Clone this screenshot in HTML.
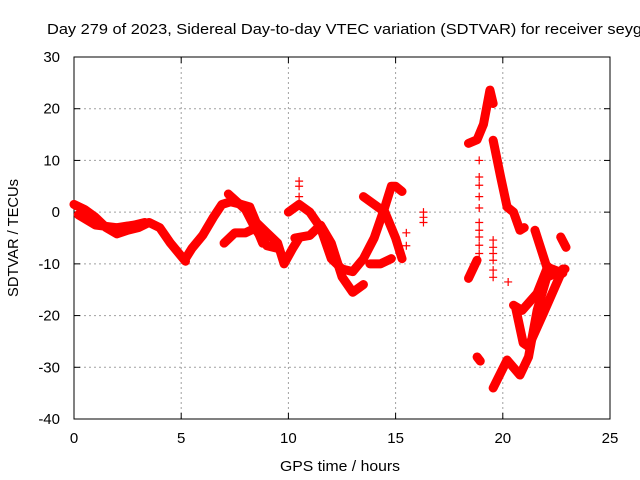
<!DOCTYPE html>
<html><head><meta charset="utf-8"><style>
html,body{margin:0;padding:0;background:#fff;}
svg{display:block;font-family:"Liberation Sans",sans-serif;}
</style></head><body>
<svg id="chart" width="640" height="480"></svg>
<script>
const xTicks=[0,5,10,15,20,25];
const yTicks=[-40,-30,-20,-10,0,10,20,30];
// band traces: [hour, TECU]
const traceA=[[0,1.5],[0.5,0.5],[1,-1],[1.5,-3],[2,-4.2],[2.5,-3.5],[3,-3],[3.5,-2],[4,-3],[4.5,-6],[5,-8.5],[5.2,-9.5]];
const traceA2=[[0.2,-0.5],[1,-2.5],[2,-3],[2.8,-2.5],[3.3,-2]];
const traceB=[[5.2,-9],[5.5,-7],[6,-4.5],[6.5,-1],[6.9,1.5],[7.3,2],[7.8,1.5],[8.2,1],[8.5,-2],[9,-4],[9.5,-6],[9.8,-10],[10.2,-7],[10.5,-5]];
const traceC=[[7.2,3.5],[7.6,2],[8,0.5],[8.5,-3.5],[9,-6.5],[9.5,-7]];
const traceC2=[[7,-6],[7.5,-4],[8,-4],[8.5,-3],[8.8,-6]];
const traceD=[[10,0],[10.5,1.5],[11,0],[11.5,-3],[12,-9],[12.5,-11],[13,-11.5],[13.5,-9],[14,-5],[14.5,1],[14.8,5],[15,5],[15.3,4]];
const traceE=[[10.3,-5],[11,-4.5],[11.5,-2.5],[12,-6],[12.5,-12.5],[13,-15.5],[13.5,-14]];
const traceF=[[13.5,3],[14,1.5],[14.5,0],[15,-5],[15.3,-9]];
const traceG=[[13.8,-10],[14.3,-10],[14.8,-9]];
const traceH=[[18.4,13.3],[18.8,14],[19.1,17],[19.4,23.6],[19.55,21]];
const traceH2=[[19.55,13.9],[19.9,6.8],[20.2,1],[20.5,0],[20.8,-3.5],[21,-3]];
const traceI=[[21.5,-3.5],[22.05,-10.6],[22.8,-11.8]];
const traceJ=[[19.55,-34],[20.2,-28.6],[20.8,-31.5],[21.2,-28],[21.6,-19],[22.05,-12.6],[22.9,-11]];
const traceK=[[20.5,-18],[20.9,-19],[21.6,-15.7],[22.1,-10.5]];
const traceK2=[[20.6,-18.5],[20.95,-25.3],[21.2,-26],[21.9,-19.5],[22.8,-11]];
const traceL=[[18.4,-12.8],[18.8,-9.3]];
const traceM=[[22.7,-4.8],[22.95,-6.8]];
const traceN=[[18.8,-28],[18.95,-28.8]];
const traces=[traceA,traceA2,traceB,traceC,traceC2,traceD,traceE,traceF,traceG,traceH,traceH2,traceI,traceJ,traceK,traceK2,traceL,traceM,traceN];
// sparse points
const sparseX=[10.5,10.5,10.5,15.5,15.5,16.3,16.3,16.3,18.9,18.9,18.9,18.9,18.9,18.9,18.9,18.9,18.9,18.9,19.55,19.55,19.55,19.55,19.55,19.55,20.25,20.0,20.1,20.2];
const sparseY=[3,5,6,-4,-6.5,0,-1,-2,10,6.8,5.2,3,0.8,-2,-3.5,-4.8,-6.4,-8,-5.4,-6.8,-8,-9.3,-11.2,-12.6,-13.5,5,3,1.5];
const X0=74,X1=610,Y0=419,Y1=57;
function sx(v){return X0+(v-0)/25*(X1-X0);}
function sy(v){return Y0-(v+40)/70*(Y0-Y1);}
const NS="http://www.w3.org/2000/svg";
const svg=document.getElementById('chart');
function mk(t,a){const e=document.createElementNS(NS,t);for(const k in a)e.setAttribute(k,a[k]);svg.appendChild(e);return e;}
let e;
e=mk('text',{x:47,y:34,'font-size':15,textLength:595,lengthAdjust:'spacingAndGlyphs',fill:'#000'});e.textContent='Day 279 of 2023, Sidereal Day-to-day VTEC variation (SDTVAR) for receiver seyg';


xTicks.forEach(t=>{const x=sx(t);
 if(t>0&&t<25){e=mk('line',{x1:x,x2:x,y1:Y1,y2:Y0,stroke:'#a0a0a0','stroke-dasharray':'2,3'});
 
 }
 mk('line',{x1:x,x2:x,y1:Y0,y2:Y0-6,stroke:'#000'});mk('line',{x1:x,x2:x,y1:Y1,y2:Y1+6,stroke:'#000'});
 e=mk('text',{x:x,y:443,'text-anchor':'middle','font-size':15});e.textContent=t;
 
 });
yTicks.forEach(t=>{const y=sy(t);
 if(t>-40&&t<30){e=mk('line',{x1:X0,x2:X1,y1:y,y2:y,stroke:'#a0a0a0','stroke-dasharray':'2,3'});
 
 }
 mk('line',{x1:X0,x2:X0+6,y1:y,y2:y,stroke:'#000'});mk('line',{x1:X1,x2:X1-6,y1:y,y2:y,stroke:'#000'});
 e=mk('text',{x:60,y:y+5,'text-anchor':'end','font-size':15});e.textContent=t;
 
 });
e=mk('rect',{x:X0,y:Y1,width:X1-X0,height:Y0-Y1,fill:'none',stroke:'#000'});


e=mk('text',{x:340,y:471,'text-anchor':'middle','font-size':15,textLength:120,lengthAdjust:'spacingAndGlyphs'});e.textContent='GPS time / hours';


e=mk('text',{x:18,y:238,'text-anchor':'middle','font-size':15,textLength:118,lengthAdjust:'spacingAndGlyphs',transform:'rotate(-90 18 238)'});e.textContent='SDTVAR / TECUs';


traces.forEach(tr=>{
 e=mk('polyline',{points:tr.map(p=>sx(p[0])+','+sy(p[1])).join(' '),fill:'none',stroke:'#ff0000','stroke-width':9,'stroke-linejoin':'round','stroke-linecap':'round'});
 
 
});
sparseX.forEach((h,i)=>{const x=sx(h),y=sy(sparseY[i]);
 e=mk('path',{d:`M${x-4},${y}H${x+4}M${x},${y-4}V${y+4}`,stroke:'#ff0000','stroke-width':1.2});
 
 });
</script>
</body></html>
